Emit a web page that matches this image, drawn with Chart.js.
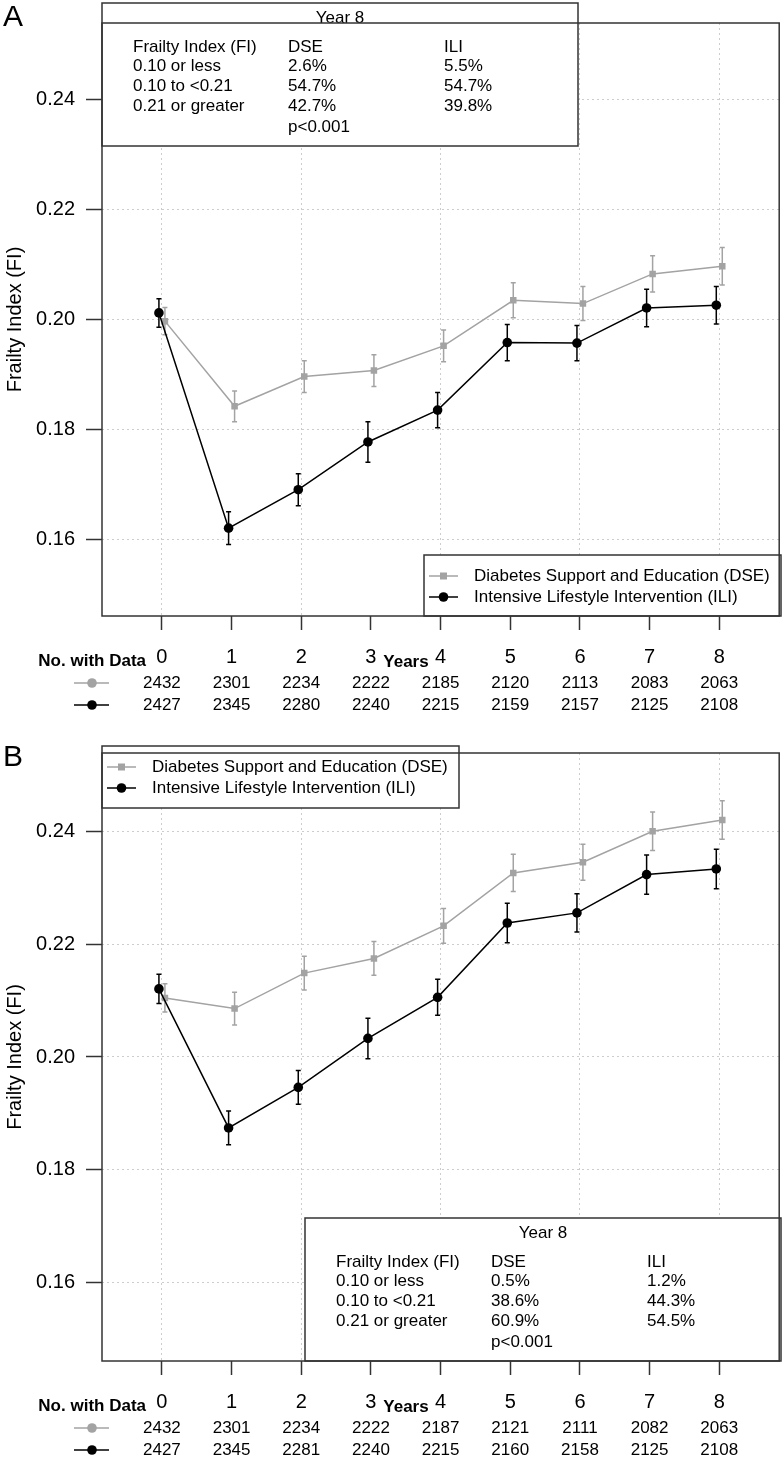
<!DOCTYPE html>
<html><head><meta charset="utf-8">
<script src="https://cdn.jsdelivr.net/npm/chart.js@4.4.1/dist/chart.umd.min.js"></script>
<style>html,body{margin:0;padding:0;background:#fff}canvas{display:block}</style>
</head><body>
<canvas id="cA" width="784" height="730"></canvas>
<canvas id="cB" width="784" height="728"></canvas>
<script>
// ---------- data ----------
const years = [0, 1, 2, 3, 4, 5, 6, 7, 8];
const yTicks = [0.16, 0.18, 0.20, 0.22, 0.24];
const seriesNames = ['Diabetes Support and Education (DSE)', 'Intensive Lifestyle Intervention (ILI)'];
const tableTitle = 'Year 8';
const tableHead = ['Frailty Index (FI)', 'DSE', 'ILI'];
const tableRowLabels = ['0.10 or less', '0.10 to <0.21', '0.21 or greater'];
const pValueText = 'p<0.001';

// Panel A
const dseMeanA = [0.1997, 0.1842, 0.1896, 0.1907, 0.1952, 0.2035, 0.2029, 0.2083, 0.2097];
const dseErrA  = [0.0025, 0.0028, 0.0029, 0.0029, 0.0029, 0.0032, 0.0031, 0.0033, 0.0034];
const iliMeanA = [0.2012, 0.1620, 0.1690, 0.1777, 0.1835, 0.1958, 0.1957, 0.2021, 0.2026];
const iliErrA  = [0.0026, 0.0030, 0.0029, 0.0037, 0.0032, 0.0033, 0.0032, 0.0034, 0.0034];
const dseNA = [2432, 2301, 2234, 2222, 2185, 2120, 2113, 2083, 2063];
const iliNA = [2427, 2345, 2280, 2240, 2215, 2159, 2157, 2125, 2108];
const tableDseA = ['2.6%', '54.7%', '42.7%'];
const tableIliA = ['5.5%', '54.7%', '39.8%'];

// Panel B
const dseMeanB = [0.2105, 0.2086, 0.2149, 0.2175, 0.2233, 0.2327, 0.2346, 0.2401, 0.2421];
const dseErrB  = [0.0025, 0.0029, 0.0030, 0.0030, 0.0031, 0.0033, 0.0032, 0.0034, 0.0034];
const iliMeanB = [0.2121, 0.1874, 0.1946, 0.2033, 0.2106, 0.2238, 0.2256, 0.2324, 0.2334];
const iliErrB  = [0.0026, 0.0030, 0.0030, 0.0036, 0.0032, 0.0035, 0.0034, 0.0035, 0.0035];
const dseNB = [2432, 2301, 2234, 2222, 2187, 2121, 2111, 2082, 2063];
const iliNB = [2427, 2345, 2281, 2240, 2215, 2160, 2158, 2125, 2108];
const tableDseB = ['0.5%', '38.6%', '60.9%'];
const tableIliB = ['1.2%', '44.3%', '54.5%'];

// ---------- style ----------
const FONT = '"Liberation Sans", Arial, Helvetica, sans-serif';
const GREY = '#A3A3A3';
const BLACK = '#000000';
const GRID = '#cdcdcd';
const FRAME = '#333333';
const DODGE = 0.043;
Chart.defaults.font.family = FONT;
Chart.defaults.color = '#000';

function drawMarker(ctx, style, x, y, color) {
  ctx.fillStyle = color;
  ctx.beginPath();
  if (style === 'rect') { ctx.rect(x - 3.5, y - 3.5, 7, 7); }
  else { ctx.arc(x, y, 4.8, 0, Math.PI * 2); }
  ctx.fill();
}

function makePanel(id, P) {
  const canvas = document.getElementById(id);
  const H = canvas.height;
  const styles = ['rect', 'circle'];
  const colors = [GREY, BLACK];

  const plugin = {
    id: 'extras' + P.letter,
    afterDatasetDraw(chart, args) {
      const ds = chart.data.datasets[args.index];
      const xs = chart.scales.x, ys = chart.scales.y, ctx = chart.ctx;
      ctx.save();
      ctx.strokeStyle = ds.borderColor;
      ctx.lineWidth = 1.5;
      ds.data.forEach((pt, j) => {
        const e = ds.errors[j];
        const px = xs.getPixelForValue(pt.x);
        const y1 = ys.getPixelForValue(pt.y - e);
        const y2 = ys.getPixelForValue(pt.y + e);
        ctx.beginPath();
        ctx.moveTo(px, y1); ctx.lineTo(px, y2);
        ctx.moveTo(px - 2.5, y1); ctx.lineTo(px + 2.5, y1);
        ctx.moveTo(px - 2.5, y2); ctx.lineTo(px + 2.5, y2);
        ctx.stroke();
      });
      ctx.restore();
    },
    afterDraw(chart) {
      const ctx = chart.ctx, a = chart.chartArea, xs = chart.scales.x;
      ctx.save();
      // ---- table box ----
      const t = P.tableBox;
      ctx.fillStyle = '#fff';
      ctx.fillRect(t.left, t.top, t.width, t.height);
      ctx.strokeStyle = FRAME; ctx.lineWidth = 1.5;
      ctx.strokeRect(t.left, t.top, t.width, t.height);
      ctx.fillStyle = '#000';
      ctx.font = '17px ' + FONT;
      ctx.textBaseline = 'middle';
      ctx.textAlign = 'center';
      ctx.fillText(tableTitle, t.left + t.width / 2, t.top + 15);
      ctx.textAlign = 'left';
      const cols = [31, 186, 342];
      const rowsY = [44, 63, 83, 103, 124];
      tableHead.forEach((h, c) => ctx.fillText(h, t.left + cols[c], t.top + rowsY[0]));
      tableRowLabels.forEach((lab, r) => {
        ctx.fillText(lab, t.left + cols[0], t.top + rowsY[r + 1]);
        ctx.fillText(P.tableDse[r], t.left + cols[1], t.top + rowsY[r + 1]);
        ctx.fillText(P.tableIli[r], t.left + cols[2], t.top + rowsY[r + 1]);
      });
      ctx.fillText(pValueText, t.left + cols[1], t.top + rowsY[4]);

      // ---- series legend ----
      const L = P.legendBox;
      ctx.fillStyle = '#fff';
      ctx.fillRect(L.left, L.top, L.width, L.height);
      ctx.strokeStyle = FRAME; ctx.lineWidth = 1.5;
      ctx.strokeRect(L.left, L.top, L.width, L.height);
      seriesNames.forEach((name, k) => {
        const y = L.top + [21, 42][k];
        ctx.strokeStyle = colors[k]; ctx.lineWidth = 1.5;
        ctx.beginPath(); ctx.moveTo(L.left + 5, y); ctx.lineTo(L.left + 34, y); ctx.stroke();
        drawMarker(ctx, styles[k], L.left + 19.5, y, colors[k]);
        ctx.fillStyle = '#000';
        ctx.font = '17px ' + FONT; ctx.textAlign = 'left'; ctx.textBaseline = 'middle';
        ctx.fillText(name, L.left + 50, y);
      });

      // ---- plot frame ----
      ctx.strokeStyle = FRAME; ctx.lineWidth = 1.5;
      ctx.strokeRect(a.left, a.top, a.right - a.left, a.bottom - a.top);

      // ---- panel letter ----
      ctx.fillStyle = '#000';
      ctx.font = '30px ' + FONT; ctx.textAlign = 'left'; ctx.textBaseline = 'middle';
      ctx.fillText(P.letter, 3, P.letterY);

      // ---- labels under axis ----
      ctx.font = 'bold 17px ' + FONT; ctx.textBaseline = 'alphabetic';
      ctx.textAlign = 'right';
      ctx.fillText('No. with Data', 146, a.bottom + 50);
      ctx.textAlign = 'center';
      ctx.fillText('Years', 406, a.bottom + 51);

      // ---- counts rows ----
      ctx.font = '17px ' + FONT; ctx.textBaseline = 'middle'; ctx.textAlign = 'center';
      P.counts.forEach((row, k) => {
        const y = a.bottom + [67, 89][k];
        ctx.strokeStyle = colors[k]; ctx.lineWidth = 1.5;
        ctx.beginPath(); ctx.moveTo(74, y); ctx.lineTo(109, y); ctx.stroke();
        drawMarker(ctx, 'circle', 92, y, colors[k]);
        ctx.fillStyle = '#000';
        row.forEach((n, j) => ctx.fillText(String(n), xs.getPixelForValue(years[j]), y));
      });
      ctx.restore();
    }
  };

  const toPts = (means, off) => means.map((m, j) => ({ x: years[j] + off, y: m }));

  return new Chart(canvas, {
    type: 'line',
    data: {
      datasets: [
        {
          label: seriesNames[0], data: toPts(P.dseMean, DODGE), errors: P.dseErr,
          borderColor: GREY, backgroundColor: GREY, borderWidth: 1.5,
          pointStyle: 'rect', pointRadius: 4.6, pointBorderWidth: 0, tension: 0, order: 2
        },
        {
          label: seriesNames[1], data: toPts(P.iliMean, -DODGE), errors: P.iliErr,
          borderColor: BLACK, backgroundColor: BLACK, borderWidth: 1.5,
          pointStyle: 'circle', pointRadius: 4.8, pointBorderWidth: 0, tension: 0, order: 1
        }
      ]
    },
    options: {
      responsive: false,
      animation: false,
      devicePixelRatio: 1,
      layout: { padding: { top: P.areaTop, right: 3, left: 0, bottom: 0 } },
      plugins: { legend: { display: false }, tooltip: { enabled: false } },
      scales: {
        x: {
          type: 'linear', min: -0.86, max: 8.86,
          afterBuildTicks: s => { s.ticks = years.map(v => ({ value: v })); },
          afterFit: s => { s.height = H - P.areaBottom; },
          ticks: { font: { size: 20, lineHeight: 1.2 }, color: '#000', padding: 15, maxRotation: 0, autoSkip: false },
          grid: {
            color: c => (c.tick && c.tick.value % 2 === 0) ? GRID : 'rgba(0,0,0,0)',
            lineWidth: 1, tickLength: 14, tickWidth: 1.5, tickColor: FRAME, tickBorderDash: []
          },
          border: { display: false, dash: [2, 3] }
        },
        y: {
          type: 'linear', min: 0.146, max: 0.254,
          afterBuildTicks: s => { s.ticks = yTicks.map(v => ({ value: v })); },
          afterFit: s => { s.width = 102; },
          ticks: { font: { size: 20, lineHeight: 1.2 }, color: '#000', padding: 11, callback: v => v.toFixed(2) },
          grid: { color: GRID, lineWidth: 1, tickLength: 16, tickWidth: 1.5, tickColor: FRAME, tickBorderDash: [] },
          border: { display: false, dash: [2, 3] },
          title: { display: true, text: 'Frailty Index (FI)', font: { size: 20, lineHeight: 1.2 }, color: '#000', padding: { top: 3, bottom: 0 } }
        }
      }
    },
    plugins: [plugin]
  });
}

makePanel('cA', {
  letter: 'A', letterY: 18, areaTop: 3, areaBottom: 616,
  dseMean: dseMeanA, dseErr: dseErrA, iliMean: iliMeanA, iliErr: iliErrA,
  counts: [dseNA, iliNA], tableDse: tableDseA, tableIli: tableIliA,
  tableBox: { left: 102, top: 3, width: 476, height: 143 },
  legendBox: { left: 424, top: 555, width: 357, height: 61 }
});
makePanel('cB', {
  letter: 'B', letterY: 28, areaTop: 16, areaBottom: 631,
  dseMean: dseMeanB, dseErr: dseErrB, iliMean: iliMeanB, iliErr: iliErrB,
  counts: [dseNB, iliNB], tableDse: tableDseB, tableIli: tableIliB,
  tableBox: { left: 305, top: 488, width: 476, height: 143 },
  legendBox: { left: 102, top: 16, width: 357, height: 62 }
});
</script>
</body></html>
